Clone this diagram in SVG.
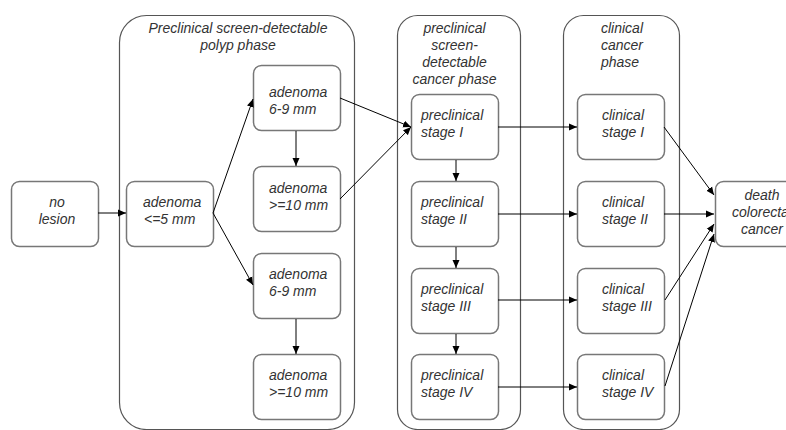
<svg xmlns="http://www.w3.org/2000/svg" width="786" height="430" viewBox="0 0 786 430">
<defs>
<marker id="ah" markerWidth="8" markerHeight="8" refX="8" refY="4" orient="auto" markerUnits="userSpaceOnUse">
<path d="M0,0.5 L8,4 L0,7.5 Z" fill="#000"/>
</marker>
<style>
.cont{fill:none;stroke:#555;stroke-width:1.2}
.node rect{fill:#fff;stroke:#777;stroke-width:1.5}
text{font-family:"Liberation Sans",Arial,sans-serif;font-size:14px;font-style:italic;fill:#333}
.c{text-anchor:middle}
.e{fill:none;stroke:#000;stroke-width:1;marker-end:url(#ah)}
</style>
</defs>
<rect width="786" height="430" fill="#fff"/>
<g id="polyp-phase">
<rect class="cont" x="119.5" y="15.5" width="235" height="414" rx="27"/>
<text class="c" x="238" y="33">Preclinical screen-detectable</text>
<text class="c" x="238" y="50">polyp phase</text>
</g>
<g id="preclinical-cancer-phase">
<rect class="cont" x="397.5" y="15.5" width="123" height="414" rx="20"/>
<text class="c" x="454.5" y="33">preclinical</text>
<text class="c" x="454.5" y="50">screen-</text>
<text class="c" x="454.5" y="67">detectable</text>
<text class="c" x="454.5" y="84">cancer phase</text>
</g>
<g id="clinical-cancer-phase">
<rect class="cont" x="563.5" y="15.5" width="116" height="414" rx="20"/>
<text x="601" y="33">clinical</text>
<text x="601" y="50">cancer</text>
<text x="601" y="67">phase</text>
</g>
<g id="no-lesion" class="node"><rect x="11.5" y="181.5" width="87" height="65" rx="8"/><text class="c" x="57" y="207">no</text><text class="c" x="57" y="224">lesion</text></g>
<g id="adenoma-le5" class="node"><rect x="126.5" y="181.5" width="87" height="65" rx="8"/><text x="143" y="207">adenoma</text><text x="144" y="224">&lt;=5 mm</text></g>
<g id="adenoma-6-9-a" class="node"><rect x="253.5" y="65.5" width="87" height="65" rx="8"/><text x="269" y="97">adenoma</text><text x="269" y="114">6-9 mm</text></g>
<g id="adenoma-ge10-a" class="node"><rect x="253.5" y="166.5" width="87" height="65" rx="8"/><text x="269" y="193">adenoma</text><text x="269" y="210">&gt;=10 mm</text></g>
<g id="adenoma-6-9-b" class="node"><rect x="253.5" y="253.5" width="87" height="65" rx="8"/><text x="269" y="279">adenoma</text><text x="269" y="296">6-9 mm</text></g>
<g id="adenoma-ge10-b" class="node"><rect x="253.5" y="354.5" width="87" height="65" rx="8"/><text x="269" y="380">adenoma</text><text x="269" y="397">&gt;=10 mm</text></g>
<g id="pre-stage-1" class="node"><rect x="411.5" y="94.5" width="87" height="65" rx="8"/><text x="421" y="120">preclinical</text><text x="421" y="137">stage I</text></g>
<g id="pre-stage-2" class="node"><rect x="411.5" y="181.5" width="87" height="65" rx="8"/><text x="421" y="207">preclinical</text><text x="421" y="224">stage II</text></g>
<g id="pre-stage-3" class="node"><rect x="411.5" y="268.5" width="87" height="65" rx="8"/><text x="421" y="294">preclinical</text><text x="421" y="311">stage III</text></g>
<g id="pre-stage-4" class="node"><rect x="411.5" y="354.5" width="87" height="65" rx="8"/><text x="421" y="380">preclinical</text><text x="421" y="397">stage IV</text></g>
<g id="clin-stage-1" class="node"><rect x="577.5" y="94.5" width="87" height="65" rx="8"/><text x="602" y="120">clinical</text><text x="602" y="137">stage I</text></g>
<g id="clin-stage-2" class="node"><rect x="577.5" y="181.5" width="87" height="65" rx="8"/><text x="602" y="207">clinical</text><text x="602" y="224">stage II</text></g>
<g id="clin-stage-3" class="node"><rect x="577.5" y="268.5" width="87" height="65" rx="8"/><text x="602" y="294">clinical</text><text x="602" y="311">stage III</text></g>
<g id="clin-stage-4" class="node"><rect x="577.5" y="354.5" width="87" height="65" rx="8"/><text x="602" y="380">clinical</text><text x="602" y="397">stage IV</text></g>
<g id="death" class="node"><rect x="715.5" y="181.5" width="87" height="65" rx="8"/><text class="c" x="762" y="200">death</text><text class="c" x="762" y="217">colorectal</text><text class="c" x="762" y="234">cancer</text></g>
<g id="connectors">
<line class="e" x1="98" y1="213" x2="126" y2="213"/>
<line class="e" x1="213" y1="213" x2="253" y2="99"/>
<line class="e" x1="213" y1="213" x2="253" y2="285"/>
<line class="e" x1="296" y1="131" x2="296" y2="166"/>
<line class="e" x1="296" y1="319" x2="296" y2="354"/>
<line class="e" x1="340" y1="98" x2="411" y2="127"/>
<line class="e" x1="340" y1="199" x2="411" y2="127"/>
<line class="e" x1="456" y1="160" x2="456" y2="181"/>
<line class="e" x1="456" y1="247" x2="456" y2="268"/>
<line class="e" x1="456" y1="334" x2="456" y2="354"/>
<line class="e" x1="498" y1="127" x2="577" y2="127"/>
<line class="e" x1="498" y1="214" x2="577" y2="214"/>
<line class="e" x1="498" y1="300" x2="577" y2="300"/>
<line class="e" x1="498" y1="387" x2="577" y2="387"/>
<line class="e" x1="664" y1="127" x2="714" y2="195"/>
<line class="e" x1="664" y1="214" x2="714" y2="214"/>
<line class="e" x1="665" y1="300" x2="714" y2="224"/>
<line class="e" x1="665" y1="386" x2="714" y2="234"/>
</g>
</svg>
